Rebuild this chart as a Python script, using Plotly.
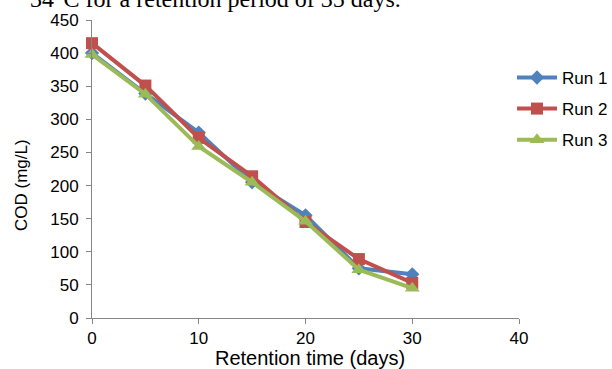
import plotly.graph_objects as go

retention_days = [0, 5, 10, 15, 20, 25, 30]
run1 = [400, 339, 280, 205, 155, 75, 66]
run2 = [415, 351, 272, 214, 145, 89, 53]
run3 = [398, 338, 259, 205, 146, 73, 45]
series_names = ["Run 1", "Run 2", "Run 3"]
x_ticks = [0, 10, 20, 30, 40]
y_ticks = [0, 50, 100, 150, 200, 250, 300, 350, 400, 450]

colors = ["#4F81BD", "#C0504D", "#9BBB59"]
symbols = ["diamond", "square", "triangle-up"]
sizes = [11, 12, 13]

fig = go.Figure()
for i, (name, ys) in enumerate(zip(series_names, [run1, run2, run3])):
    fig.add_trace(go.Scatter(
        x=retention_days, y=ys, name=name, mode="lines+markers",
        line=dict(color=colors[i], width=4),
        marker=dict(symbol=symbols[i], size=sizes[i], color=colors[i],
                    line=dict(color=colors[i], width=0)),
        legendgroup=name, cliponaxis=False,
    ))

axis_color = "#868686"
fig.update_layout(
    width=612, height=369,
    margin=dict(l=92, r=93, t=20, b=51, autoexpand=False),
    paper_bgcolor="white", plot_bgcolor="white",
    font=dict(family="Liberation Sans, Arial, sans-serif", size=17, color="#000000"),
    showlegend=True,
    legend=dict(x=1 - 7 / 427, xanchor="left", y=0.866, yanchor="top",
                font=dict(size=17), itemwidth=40, tracegroupgap=6,
                bgcolor="rgba(0,0,0,0)"),
    xaxis=dict(range=[0, 40], tickvals=x_ticks, showgrid=False, zeroline=False,
               showline=True, linecolor=axis_color, linewidth=1,
               ticks="outside", ticklen=5, tickcolor=axis_color,
               tickfont=dict(size=17)),
    yaxis=dict(range=[0, 450], tickvals=y_ticks, showgrid=False, zeroline=False,
               showline=True, linecolor=axis_color, linewidth=1,
               ticks="outside", ticklen=5, tickcolor=axis_color,
               tickfont=dict(size=17), ticklabelstandoff=4),
    annotations=[
        dict(text="Retention time (days)", xref="paper", yref="paper",
             x=(310 - 92) / 427, y=(318 - 358) / 298, xanchor="center", yanchor="middle",
             showarrow=False, font=dict(size=20)),
        dict(text="COD (mg/L)", xref="paper", yref="paper", textangle=-90,
             x=(22 - 92) / 427, y=(318 - 185) / 298, xanchor="center", yanchor="middle",
             showarrow=False, font=dict(size=17)),
        dict(text="34°C for a retention period of 35 days.", xref="paper", yref="paper",
             x=(403 - 92) / 427, y=1 + (20 - (-1)) / 298, xanchor="right", yanchor="middle",
             showarrow=False, font=dict(size=24, family="Liberation Serif, Times New Roman, serif")),
    ],
)

fig.write_html("out.html")
